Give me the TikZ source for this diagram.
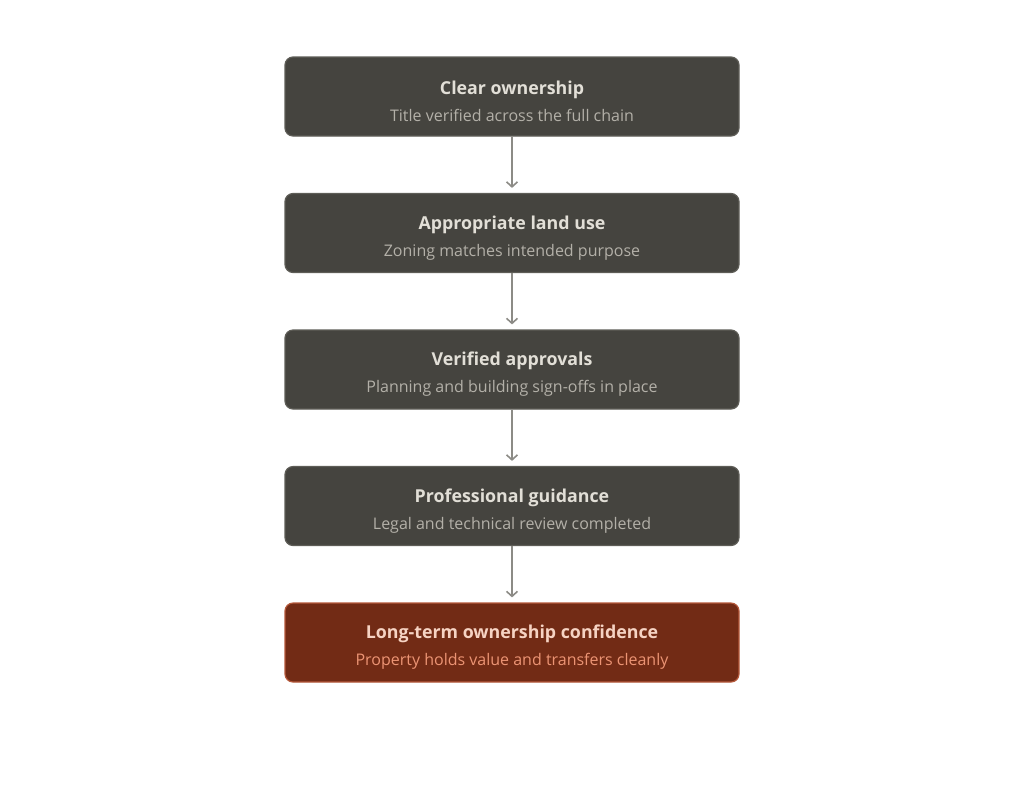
\documentclass[tikz,border=0pt]{standalone}
\usepackage{fontspec}
\setmainfont{Open Sans}
\usepackage{tikz}
\usetikzlibrary{positioning,arrows.meta}

\definecolor{boxfill}{HTML}{45443F}
\definecolor{boxline}{HTML}{5E5D57}
\definecolor{boxtitle}{HTML}{E2DFD7}
\definecolor{boxsub}{HTML}{B3B0A8}
\definecolor{endfill}{HTML}{722B15}
\definecolor{endline}{HTML}{B5583A}
\definecolor{endtitle}{HTML}{F6D3C3}
\definecolor{endsub}{HTML}{EC9474}
\definecolor{arrowgray}{HTML}{8C8B86}

\newcommand{\steptext}[2]{\rule{0pt}{23.5pt}{\bfseries #1}\\{\fontsize{16}{27}\selectfont #2}}

\begin{document}
\begin{tikzpicture}[x=1pt,y=-1pt,->,>={Straight Barb[length=5pt,width=11pt]},
                    shorten >=5pt,node distance=56.3pt,line width=1.6pt]
  \tikzstyle{stepbox}=[draw=boxline,fill=boxfill,text=boxtitle,rounded corners=8pt,
                       minimum width=454pt,minimum height=79pt,align=center,
                       font={\fontsize{17.8}{27}\selectfont},
                       line width=1.2pt,inner sep=0pt]
  \tikzstyle{endbox}=[stepbox,draw=endline,fill=endfill,text=endtitle]

  \useasboundingbox (0,0) rectangle (1024,796);

  \node[stepbox] (A) at (512,96.5) {\steptext{Clear ownership}{\color{boxsub}Title verified across the full chain}};
  \node[stepbox] (B) [below=of A]  {\steptext{Appropriate land use}{\color{boxsub}Zoning matches intended purpose}};
  \node[stepbox] (C) [below=of B]  {\steptext{Verified approvals}{\color{boxsub}Planning and building sign-offs in place}};
  \node[stepbox] (D) [below=of C]  {\steptext{Professional guidance}{\color{boxsub}Legal and technical review completed}};
  \node[endbox]  (E) [below=of D]  {\steptext{Long-term ownership confidence}{\color{endsub}Property holds value and transfers cleanly}};

  \path[draw=arrowgray] (A) edge (B)
                        (B) edge (C)
                        (C) edge (D)
                        (D) edge (E);
\end{tikzpicture}
\end{document}
